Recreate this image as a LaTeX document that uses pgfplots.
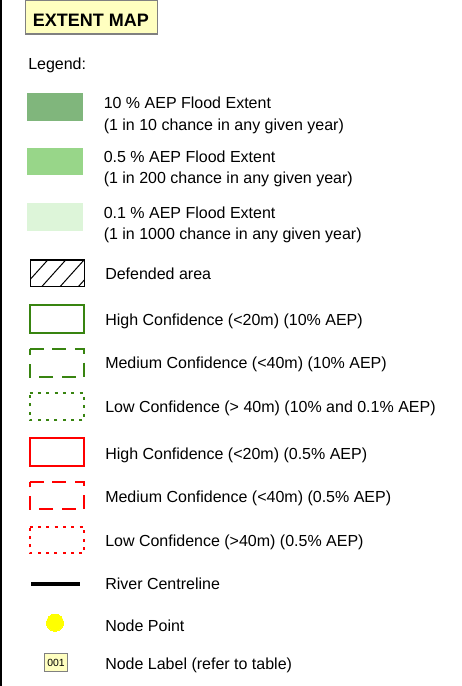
\documentclass[border=0pt]{standalone}
\usepackage{pgfplots}
\pgfplotsset{compat=1.18}
\usepackage{fontspec}
\setmainfont{Liberation Sans}
\definecolor{cten}{RGB}{128,182,124}
\definecolor{cfive}{RGB}{152,214,137}
\definecolor{cone}{RGB}{221,245,217}
\definecolor{cgreen}{RGB}{56,132,16}
\definecolor{cred}{RGB}{255,0,0}
\definecolor{cyel}{RGB}{255,255,192}
\definecolor{cgray}{RGB}{128,128,128}
\definecolor{cnode}{RGB}{255,255,0}
\begin{document}
\begin{tikzpicture}
\begin{axis}[name=ax, scale only axis, width=345.75pt, height=514.5pt,
  xmin=0, xmax=461, ymin=0, ymax=686, y dir=reverse, hide axis, clip=false]
% left border
\addplot[black, line width=1.5pt] coordinates {(1,0) (1,686)};
% title box
\addplot[fill=cyel, draw=cgray, line width=0.9pt] coordinates {(25.5,0.6) (157.5,0.6) (157.5,34) (25.5,34)} --cycle;
% filled swatches
\addplot[fill=cten, draw=none] coordinates {(27,93) (83,93) (83,121) (27,121)} --cycle;
\addplot[fill=cfive, draw=none] coordinates {(27,148.3) (83,148.3) (83,174.7) (27,174.7)} --cycle;
\addplot[fill=cone, draw=none] coordinates {(27,203) (83,203) (83,230.7) (27,230.7)} --cycle;
% defended area box
\addplot[draw=black, line width=0.9pt] coordinates {(30.5,260) (84.3,260) (84.3,286.7) (30.5,286.7)} --cycle;
\addplot[black, line width=0.75pt] coordinates {(30.5,279.1) (47.7,260)};
\addplot[black, line width=0.75pt] coordinates {(41.7,286.7) (65.7,260)};
\addplot[black, line width=0.75pt] coordinates {(60,286.7) (84,260)};
\addplot[black, line width=0.75pt] coordinates {(78.3,286.7) (84.3,280)};
% green boxes
\addplot[draw=cgreen, line width=1.5pt] coordinates {(29.5,305) (84.3,305) (84.3,333) (29.5,333)} --cycle;
\addplot[draw=cgreen, line width=1.5pt, dash pattern=on 10.5pt off 6.5pt] coordinates {(29.5,349.3) (84.3,349.3) (84.3,376.7) (29.5,376.7)} --cycle;
\addplot[draw=cgreen, line width=1.5pt, dash pattern=on 2.25pt off 4pt] coordinates {(29.5,393.3) (84.3,393.3) (84.3,420) (29.5,420)} --cycle;
% red boxes
\addplot[draw=cred, line width=1.5pt] coordinates {(29.7,438.3) (84.3,438.3) (84.3,465.7) (29.7,465.7)} --cycle;
\addplot[draw=cred, line width=1.5pt, dash pattern=on 10.5pt off 6.5pt] coordinates {(29.7,481.7) (84.3,481.7) (84.3,509.3) (29.7,509.3)} --cycle;
\addplot[draw=cred, line width=1.5pt, dash pattern=on 2.25pt off 4pt] coordinates {(29.7,526.7) (84.3,526.7) (84.3,553.3) (29.7,553.3)} --cycle;
% river line
\addplot[black, line width=3pt] coordinates {(31,584.3) (80,584.3)};
% node point
\addplot[only marks, draw=cnode, mark=*, mark size=6.4pt, mark options={fill=cnode, draw=cnode, line width=0pt}] coordinates {(55,622.7)};
% node label box
\addplot[fill=cyel, draw=cgray, line width=0.75pt] coordinates {(44.3,653.7) (67.7,653.7) (67.7,671) (44.3,671)} --cycle;
\node[anchor=base, inner sep=0, font=\fontsize{7.8}{9}\selectfont] at (axis cs:56,666) {001};
% texts
\node[anchor=base, inner sep=0, font=\fontsize{13.5}{16}\selectfont\bfseries] at (axis cs:90.8,26) {EXTENT MAP};
\begin{scope}[every node/.style={anchor=base west, inner sep=0, font=\fontsize{12}{14}\selectfont}]
\node at (axis cs:28,69.3) {Legend:};
\node at (axis cs:103.5,108.3) {10 \% AEP Flood Extent};
\node at (axis cs:103.5,130.5) {(1 in 10 chance in any given year)};
\node at (axis cs:103.5,162.7) {0.5 \% AEP Flood Extent};
\node at (axis cs:103.5,183.5) {(1 in 200 chance in any given year)};
\node at (axis cs:103.5,218.3) {0.1 \% AEP Flood Extent};
\node at (axis cs:103.5,239) {(1 in 1000 chance in any given year)};
\node at (axis cs:105,279) {Defended area};
\node at (axis cs:105,325) {High Confidence (<20m) (10\% AEP)};
\node at (axis cs:105,368.3) {Medium Confidence (<40m) (10\% AEP)};
\node at (axis cs:105,412.7) {Low Confidence (> 40m) (10\% and 0.1\% AEP)};
\node at (axis cs:105,459.3) {High Confidence (<20m) (0.5\% AEP)};
\node at (axis cs:105,502.3) {Medium Confidence (<40m) (0.5\% AEP)};
\node at (axis cs:105,546) {Low Confidence (>40m) (0.5\% AEP)};
\node at (axis cs:105,589.3) {River Centreline};
\node at (axis cs:105,631.7) {Node Point};
\node at (axis cs:105,669) {Node Label (refer to table)};
\end{scope}
\end{axis}
\pgfresetboundingbox
\path (ax.south west) rectangle (ax.north east);
\end{tikzpicture}
\end{document}
